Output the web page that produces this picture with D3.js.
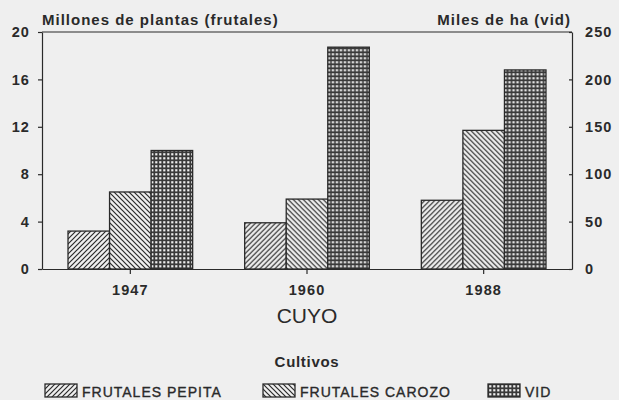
<!DOCTYPE html>
<html><head><meta charset="utf-8">
<script src="https://cdn.jsdelivr.net/npm/d3@7"></script>
<style>
body{margin:0;background:#efefef;}
svg{display:block;background:#efefef;font-family:"Liberation Sans",Arial,sans-serif;}
</style></head><body>
<svg id="c" width="619" height="400"></svg>
<script>
const years = ["1947","1960","1988"];
const pepita = [3.2, 3.9, 5.8];        // millones de plantas
const carozo = [6.5, 5.9, 11.7];       // millones de plantas
const vid = [125, 234, 210];           // miles de ha
const leftTicks = [0,4,8,12,16,20];
const rightTicks = [0,50,100,150,200,250];
const seriesNames = ["FRUTALES PEPITA","FRUTALES CAROZO","VID"];
const seriesKeys = ["pepita","carozo","vid"];

const svg = d3.select("#c");
const ink = "#2a2a2a";
const L = 42, R = 572, T = 32, B = 269;

const defs = svg.append("defs");
function hatch(id, dir){
  const p = defs.append("pattern").attr("id",id).attr("patternUnits","userSpaceOnUse")
    .attr("width",5).attr("height",5);
  p.append("rect").attr("width",5).attr("height",5).attr("fill","#efefef");
  if(dir>0){
    p.append("path").attr("d","M-1,1 L1,-1 M0,5 L5,0 M4,6 L6,4").attr("stroke",ink).attr("stroke-width",1.2);
  } else {
    p.append("path").attr("d","M-1,4 L1,6 M0,0 L5,5 M4,-1 L6,1").attr("stroke",ink).attr("stroke-width",1.2);
  }
}
hatch("pPep",1); hatch("pCar",-1);
const g4 = defs.append("pattern").attr("id","pVid").attr("patternUnits","userSpaceOnUse").attr("width",4).attr("height",4);
g4.append("rect").attr("width",4).attr("height",4).attr("fill","#3a3a3a");
g4.append("rect").attr("x",1.2).attr("y",1.2).attr("width",2.2).attr("height",2.2).attr("fill","#eeeeee");
const fills = {pepita:"url(#pPep)",carozo:"url(#pCar)",vid:"url(#pVid)"};

const x = d3.scaleBand().domain(years).range([L,R]).padding(0);
const xs = d3.scaleBand().domain(seriesKeys).range([26, x.bandwidth()-26]).padding(0);
const yL = d3.scaleLinear().domain([0,20]).range([B,T]);
const yR = d3.scaleLinear().domain([0,250]).range([B,T]);

// top frame line
svg.append("line").attr("x1",L).attr("x2",R).attr("y1",T).attr("y2",T).attr("stroke",ink).attr("stroke-width",1.2);

const data = years.map((yr,i)=>({yr, vals:[
  {k:"pepita", y:yL(pepita[i])},
  {k:"carozo", y:yL(carozo[i])},
  {k:"vid", y:yR(vid[i])}
]}));
const grp = svg.append("g").selectAll("g").data(data).join("g").attr("transform",d=>`translate(${x(d.yr)},0)`);
grp.selectAll("rect").data(d=>d.vals).join("rect")
  .attr("x",d=>xs(d.k)).attr("width",xs.bandwidth())
  .attr("y",d=>d.y).attr("height",d=>B-d.y)
  .attr("fill",d=>fills[d.k]).attr("stroke",ink).attr("stroke-width",1.3);

const fontAxis = g=>{g.selectAll("text").attr("font-size",14.5).attr("font-weight","bold").attr("fill",ink).attr("letter-spacing",1.1);
  g.selectAll("line,path").attr("stroke",ink).attr("stroke-width",1.2);};
svg.append("g").attr("transform",`translate(${L},0)`)
  .call(d3.axisLeft(yL).tickValues(leftTicks).tickSize(4).tickPadding(8).tickSizeOuter(0)).call(fontAxis);
const ra = svg.append("g").attr("transform",`translate(${R},0)`)
  .call(d3.axisRight(yR).tickValues(rightTicks).tickSize(-3).tickPadding(13).tickSizeOuter(0)).call(fontAxis);
ra.selectAll("text").attr("x",13);
svg.append("g").attr("transform",`translate(0,${B})`)
  .call(d3.axisBottom(x).tickSize(5).tickPadding(11).tickSizeOuter(0)).call(fontAxis);

svg.append("text").attr("x",42).attr("y",25).attr("font-size",15).attr("font-weight","bold").attr("fill",ink)
  .attr("letter-spacing",1.0).text("Millones de plantas (frutales)");
svg.append("text").attr("x",571).attr("y",25).attr("text-anchor","end").attr("font-size",15).attr("font-weight","bold").attr("fill",ink)
  .attr("letter-spacing",1.0).text("Miles de ha (vid)");
svg.append("text").attr("x",(L+R)/2).attr("y",323).attr("text-anchor","middle").attr("font-size",21).attr("fill",ink).text("CUYO");
svg.append("text").attr("x",(L+R)/2).attr("y",367).attr("text-anchor","middle").attr("font-size",15).attr("font-weight","bold").attr("fill",ink)
  .attr("letter-spacing",0.7).text("Cultivos");

const legX = [45, 263, 488];
const lg = svg.append("g").selectAll("g").data(seriesKeys).join("g").attr("transform",(d,i)=>`translate(${legX[i]},384)`);
lg.append("rect").attr("width",32).attr("height",13).attr("fill",d=>fills[d]).attr("stroke",ink).attr("stroke-width",1.3);
lg.append("text").attr("x",37).attr("y",13).attr("font-size",14).attr("fill",ink).attr("stroke",ink).attr("stroke-width",0.35)
  .attr("letter-spacing",1).text((d,i)=>seriesNames[i]);
</script>
</body></html>
